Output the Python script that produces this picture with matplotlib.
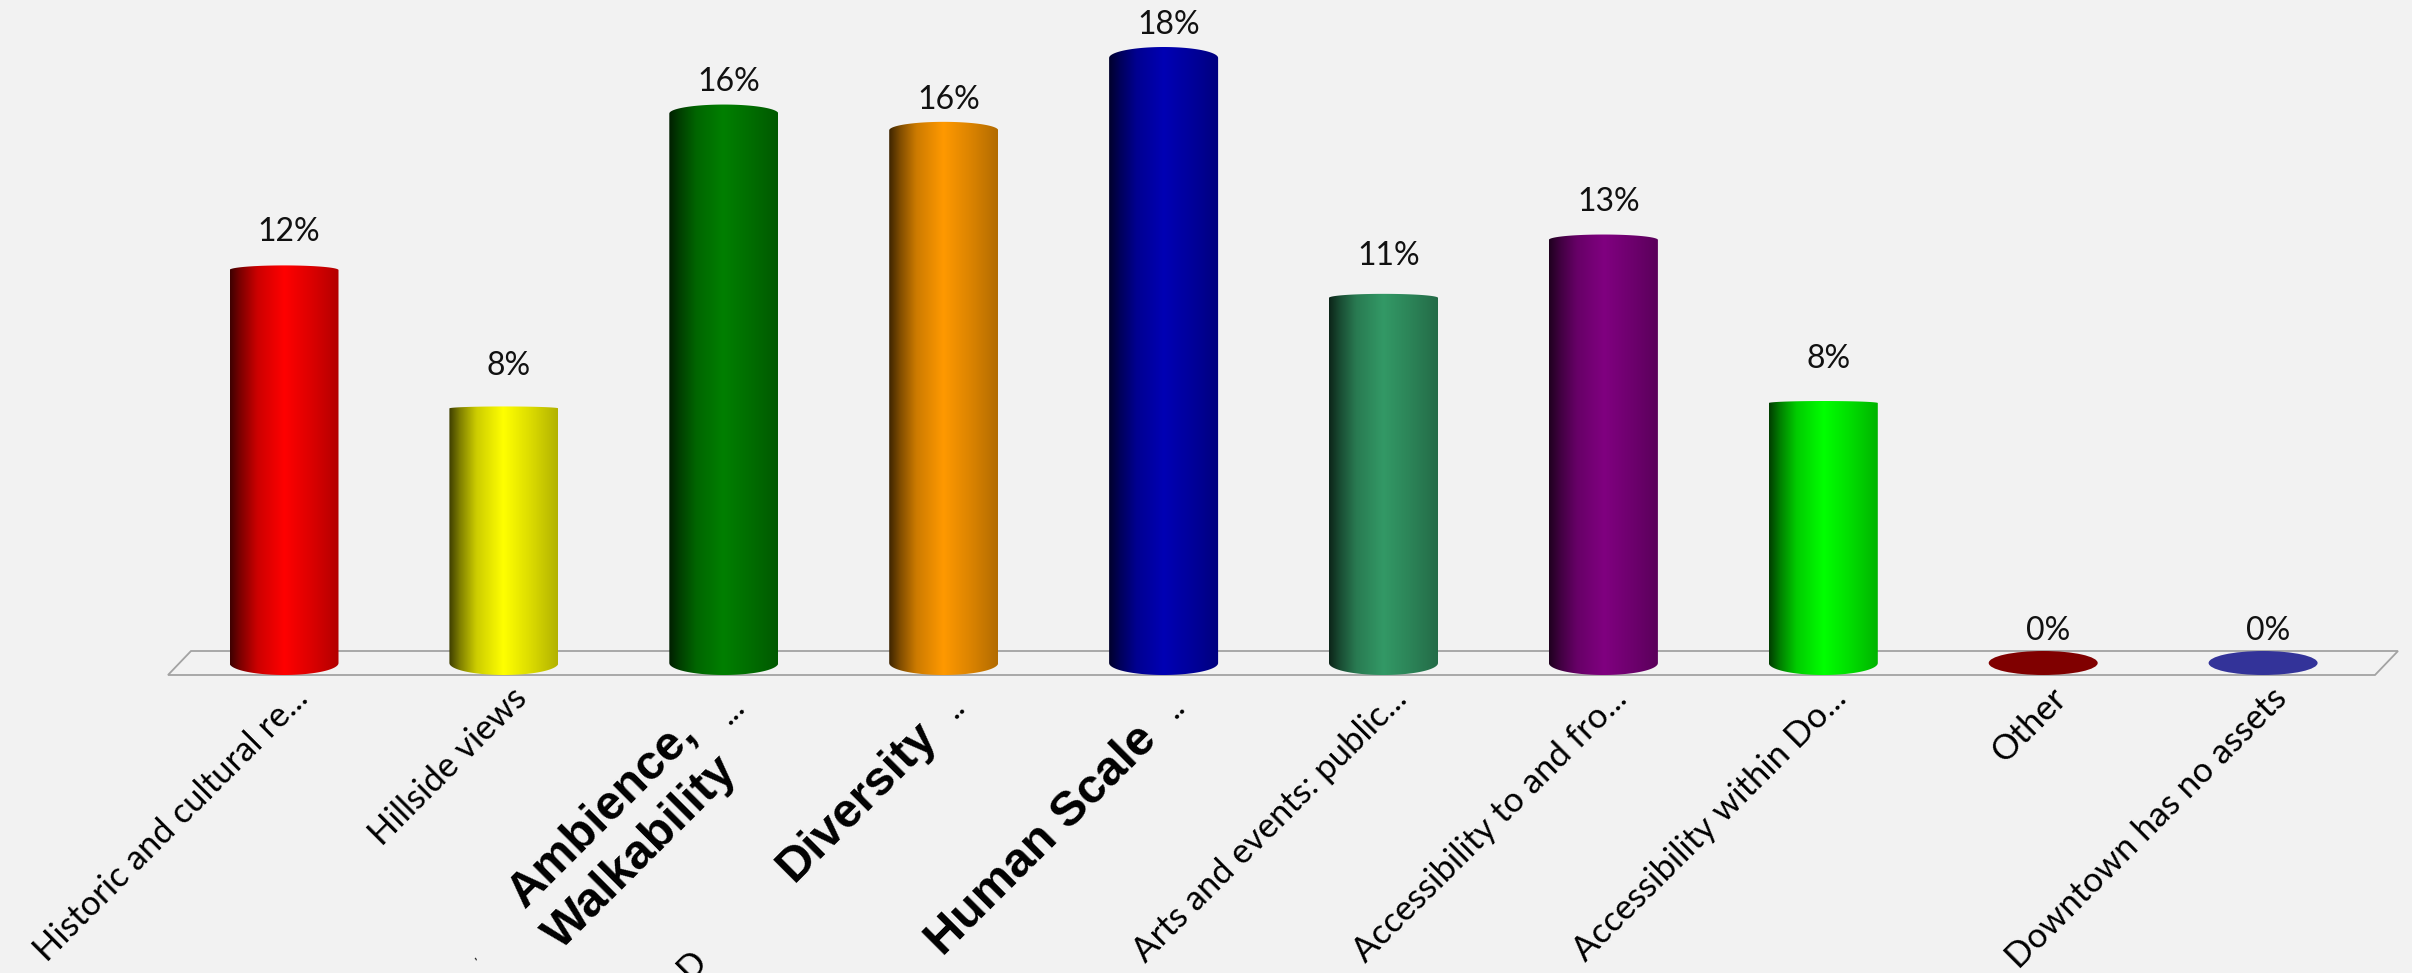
import numpy as np
import matplotlib
matplotlib.use("Agg")
import matplotlib.pyplot as plt
from matplotlib.patches import PathPatch, Ellipse, Polygon
from matplotlib.path import Path

# ---- data ----
categories = ["Historic and cultural re...", "Hillside views", "Ambience,\nWalkability", "Diversity",
              "Human Scale", "Arts and events: public...", "Accessibility to and fro...",
              "Accessibility within Do...", "Other", "Downtown has no assets"]
values = [11.73, 7.6, 16.4, 15.9, 18.06, 10.9, 12.63, 7.76, 0, 0]
bar_colors = ["#ff0000", "#ffff00", "#007f00", "#ff9900", "#0000b4",
              "#339966", "#800080", "#00ff00", "#800000", "#333399"]
emphasised = [False, False, True, True, True, False, False, False, False, False]

# ---- layout (pixels of the 2412x973 canvas) ----
W, H = 2412, 973
X0, DX = 284.0, 219.9
Y0, K = 663.0, 33.5
BAR_W = 109.0
BASE_SEMI = 12.0
BG = "#f2f2f2"
label_gap = [29, 33, 23, 21, 24, 33, 29, 35, 23, 23]
bold_centers = {2: (622, 833), 3: (857, 802), 4: (1042, 840)}
dots_end = {2: (728, 690), 3: (948, 690), 4: (1168, 690)}
TICK_FONT = "Lato"
TICK_SIZE = 24.9

fig = plt.figure(figsize=(W / 100, H / 100), dpi=100, facecolor=BG)
ax = fig.add_axes([0, 0, 1, 1])
ax.set_facecolor(BG)
ax.axis("off")
xlim = (-X0 / DX, (W - X0) / DX)
ylim = (-(H - Y0) / K, Y0 / K)


def px(x, y):
    return (x - X0) / DX, (Y0 - y) / K


# platform
plat = [px(168, 675), px(191, 651), px(2398, 651), px(2375, 675)]
ax.add_patch(Polygon(plat, closed=True, facecolor="none", edgecolor="#a3a3a3", linewidth=1.3, zorder=1))

stops_t = [0.0, 0.10, 0.25, 0.5, 0.75, 1.0]
stops_v = [0.24, 0.50, 0.80, 1.0, 0.86, 0.70]
t = np.linspace(0, 1, 256)
ramp = np.interp(t, stops_t, stops_v)
half_w = BAR_W / DX / 2
theta = np.linspace(0, np.pi, 60)

for i, (v, c) in enumerate(zip(values, bar_colors)):
    rgb = np.array(matplotlib.colors.to_rgb(c))
    if v == 0:
        ax.add_patch(Ellipse((i, 0), BAR_W / DX, 2 * BASE_SEMI / K, facecolor=c, edgecolor="none", zorder=3))
    else:
        h_px = v * K
        cap_px = 3e-5 * h_px ** 2
        cap = cap_px / K
        base = BASE_SEMI / K
        top_x = i + half_w * np.cos(theta)
        top_y = v + cap * np.sin(theta)
        bot_x = i - half_w * np.cos(theta)
        bot_y = -base * np.sin(theta)
        verts = np.column_stack([np.r_[top_x, bot_x, top_x[0]], np.r_[top_y, bot_y, top_y[0]]])
        im = ax.imshow((rgb[None, None, :] * ramp[None, :, None]).clip(0, 1),
                       extent=(i - half_w, i + half_w, -base, v + cap), aspect="auto",
                       interpolation="bilinear", zorder=3)
        clip = PathPatch(Path(verts), facecolor="none", edgecolor="none", transform=ax.transData)
        ax.add_patch(clip)
        im.set_clip_path(clip)
    ax.annotate(f"{round(v)}%", xy=(i, v), xytext=(5 * 0.72, label_gap[i] * 0.72),
                textcoords="offset points", ha="center", va="baseline",
                fontsize=23, family="Lato", color="#111111", zorder=4)

# category labels
for i, name in enumerate(categories):
    if emphasised[i]:
        x, y = px(*bold_centers[i])
        ax.text(x, y, name, rotation=45, rotation_mode="anchor", ha="center", va="center",
                fontsize=35, family="Liberation Sans", fontweight="bold", color="black",
                linespacing=1.3, multialignment="center", zorder=4)
        dx, dy = px(*dots_end[i])
        ax.text(dx, dy, "..." if i == 2 else "..", rotation=45, rotation_mode="anchor", ha="right",
                va="top", fontsize=TICK_SIZE, family=TICK_FONT, color="black", zorder=4)
    else:
        x, y = px(X0 + DX * i + 7, 682)
        ax.text(x, y, name, rotation=45, rotation_mode="anchor", ha="right", va="top",
                fontsize=TICK_SIZE, family=TICK_FONT, color="black", zorder=4)

# remnants of hidden labels cut by the lower edge
rx, ry = px(692, 965)
ax.text(rx, ry, "D", rotation=45, rotation_mode="anchor", ha="center", va="center",
        fontsize=TICK_SIZE, family=TICK_FONT, color="black", zorder=2)
rx, ry = px(478, 963)
ax.text(rx, ry, "'", rotation=30, rotation_mode="anchor", ha="center", va="center",
        fontsize=9, family=TICK_FONT, color="black", zorder=2)

ax.set_xlim(*xlim)
ax.set_ylim(*ylim)
fig.savefig("out.png", dpi=100, facecolor=BG)
